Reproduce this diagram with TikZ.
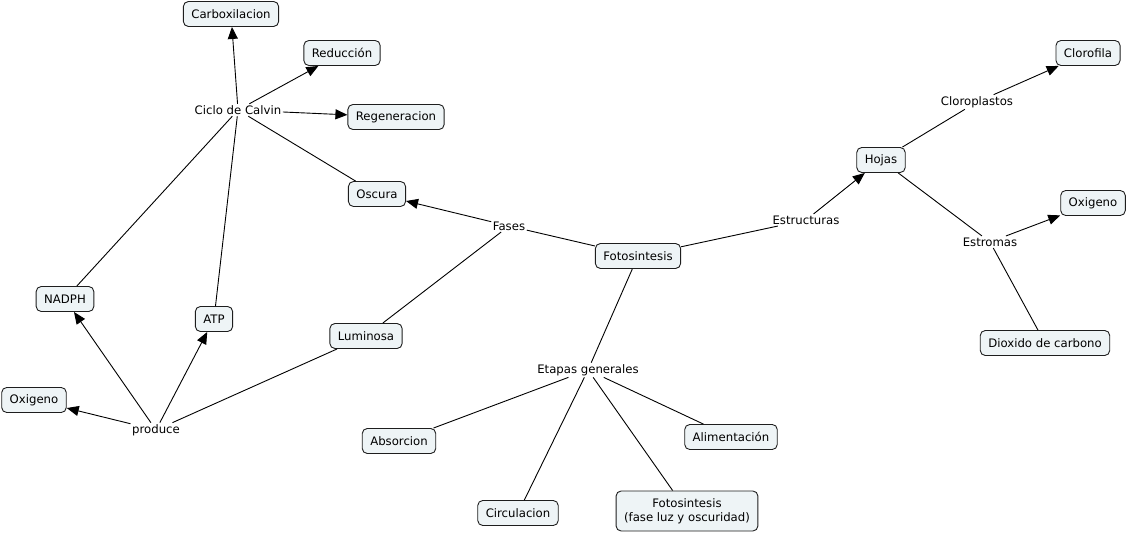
\documentclass[tikz,border=0pt]{standalone}
\usepackage{fontspec}
\setmainfont{DejaVu Sans}
\usetikzlibrary{arrows.meta}
\definecolor{boxfill}{RGB}{238,244,246}
\definecolor{boxline}{RGB}{30,30,30}
\begin{document}
\begin{tikzpicture}[x=1pt,y=-1pt,
  font=\fontsize{11.7}{14}\selectfont,
  concept/.style={draw=boxline,fill=boxfill,rounded corners=5pt,line width=0.9pt,
    inner xsep=8pt,inner ysep=2pt,minimum height=25pt},
  linkph/.style={inner sep=1.5pt},
  conn/.style={line width=0.9pt,draw=black},
  arr/.style={conn,-{Triangle[length=12pt,width=10pt]}}]
\useasboundingbox (0,0) rectangle (1128,535);
% concepts
\node[concept] (carb) at (231,14) {Carboxilacion};
\node[concept] (redu) at (342,53) {Reducción};
\node[concept] (rege) at (396,117) {Regeneracion};
\node[concept] (oscu) at (377,194) {Oscura};
\node[concept] (foto) at (638,256) {Fotosintesis};
\node[concept] (hoja) at (881,160) {Hojas};
\node[concept] (clor) at (1088,53) {Clorofila};
\node[concept] (oxir) at (1093,203) {Oxigeno};
\node[concept] (diox) at (1045,343) {Dioxido de carbono};
\node[concept] (abso) at (399,441) {Absorcion};
\node[concept] (circ) at (518,513) {Circulacion};
\node[concept,align=center,minimum height=40pt,inner ysep=3pt] (foto2) at (687,511) {Fotosintesis\\(fase luz y oscuridad)};
\node[concept] (alim) at (731,437) {Alimentación};
\node[concept] (lumi) at (366,336) {Luminosa};
\node[concept] (nadp) at (65,299) {NADPH};
\node[concept] (atp) at (214,319) {ATP};
\node[concept] (oxil) at (34,400) {Oxigeno};
% linking phrases
\node[linkph] (calv) at (238,110) {Ciclo de Calvin};
\node[linkph] (fase) at (509,226) {Fases};
\node[linkph] (estr) at (806,220) {Estructuras};
\node[linkph] (clpl) at (977,102) {Cloroplastos};
\node[linkph] (estm) at (990,242) {Estromas};
\node[linkph] (etap) at (588,370) {Etapas generales};
\node[linkph] (prod) at (156,430) {produce};
% connectors
\draw[conn] (foto) -- (fase);
\draw[arr] (fase) -- (oscu);
\draw[conn] (fase) -- (lumi);
\draw[conn] (oscu) -- (calv);
\draw[arr] (calv) -- (carb);
\draw[arr] (calv) -- (redu);
\draw[arr] (calv) -- (rege);
\draw[conn] (nadp) -- (calv);
\draw[conn] (atp) -- (calv);
\draw[conn] (lumi) -- (prod);
\draw[arr] (prod) -- (nadp);
\draw[arr] (prod) -- (atp);
\draw[arr] (prod) -- (oxil);
\draw[conn] (foto) -- (estr);
\draw[arr] (estr) -- (hoja);
\draw[conn] (hoja) -- (clpl);
\draw[arr] (clpl) -- (clor);
\draw[conn] (hoja) -- (estm);
\draw[arr] (estm) -- (oxir);
\draw[conn] (estm) -- (diox);
\draw[conn] (foto) -- (etap);
\draw[conn] (etap) -- (abso);
\draw[conn] (etap) -- (circ);
\draw[conn] (etap) -- (foto2);
\draw[conn] (etap) -- (alim);
\end{tikzpicture}
\end{document}
